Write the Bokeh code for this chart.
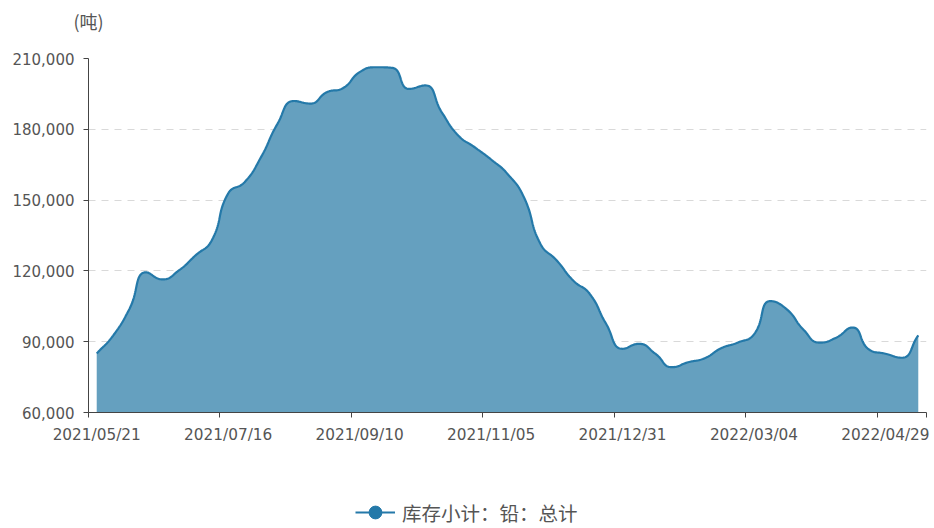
import numpy as np
from bokeh.plotting import figure
from bokeh.layouts import column
from bokeh.models import (FixedTicker, NumeralTickFormatter, Legend, LegendItem,
                          LinearAxis, Range1d, ColumnDataSource)
from bokeh.embed import file_html
from bokeh.resources import INLINE

# ---------------- data ----------------
dates = [
    "2021/05/21", "2021/05/28", "2021/06/04", "2021/06/11", "2021/06/18", "2021/06/25",
    "2021/07/02", "2021/07/09", "2021/07/16", "2021/07/23", "2021/07/30", "2021/08/06",
    "2021/08/13", "2021/08/20", "2021/08/27", "2021/09/03", "2021/09/10", "2021/09/17",
    "2021/09/24", "2021/10/01", "2021/10/08", "2021/10/15", "2021/10/22", "2021/10/29",
    "2021/11/05", "2021/11/12", "2021/11/19", "2021/11/26", "2021/12/03", "2021/12/10",
    "2021/12/17", "2021/12/24", "2021/12/31", "2022/01/07", "2022/01/14", "2022/01/21",
    "2022/01/28", "2022/02/11", "2022/02/18", "2022/02/25", "2022/03/04", "2022/03/11",
    "2022/03/18", "2022/03/25", "2022/04/01", "2022/04/08", "2022/04/15", "2022/04/22",
    "2022/04/29", "2022/05/06", "2022/05/13",
]
inventory = [
    85000, 92600, 104000, 119400, 116400, 120200, 126500, 132900, 152800, 157600,
    168200, 182300, 192000, 190900, 195700, 197500, 204200, 206300, 206000, 197100,
    198600, 187200, 177400, 172400, 167200, 161100, 151200, 131500, 124400, 115900,
    110300, 97600, 87000, 89100, 84900, 79200, 81300, 83000, 87200, 89600,
    93100, 107200, 103700, 95200, 89600, 91700, 96000, 86700, 84900, 83200,
    92700,
]
y_ticks = [60000, 90000, 120000, 150000, 180000, 210000]
label_every = 8
series_name = "库存小计：铅：总计"
unit_label = "(吨)"

# ---------------- layout ----------------
W, H = 934, 488
LH = 40
BL, BR, BT, BB = 88, 8, 58, 76
FW, FH = W - BL - BR, H - BT - BB
n = len(dates)
xs = np.arange(n, dtype=float)
ys = np.array(inventory, dtype=float)
ymin, ymax = y_ticks[0], y_ticks[-1]

# smoothing (echarts-like bezier) done in pixel space
sx = FW / n
sy = FH / (ymax - ymin)
P = np.column_stack([xs * sx, ys * sy])
smooth = 0.5
prev_cp = np.zeros_like(P)
next_cp = np.zeros_like(P)
for i in range(n):
    cur = P[i]
    prv = P[i - 1] if i > 0 else cur
    nxt = P[i + 1] if i < n - 1 else cur
    v = nxt - prv
    l0 = np.hypot(*(cur - prv))
    l1 = np.hypot(*(nxt - cur))
    if l0 + l1 == 0:
        prev_cp[i] = next_cp[i] = cur
        continue
    r = l1 / (l0 + l1)
    nc = cur + v * smooth * r
    nc = np.minimum(nc, np.maximum(nxt, cur))
    nc = np.maximum(nc, np.minimum(nxt, cur))
    vv = nc - cur
    pc = cur - vv * (l0 / l1) if l1 > 0 else cur - v * smooth * (1 - r)
    pc = np.minimum(pc, np.maximum(prv, cur))
    pc = np.maximum(pc, np.minimum(prv, cur))
    vv = cur - pc
    if l0 > 0:
        nc = cur + vv * (l1 / l0)
    prev_cp[i] = pc
    next_cp[i] = nc

cx, cy = [], []
t = np.linspace(0, 1, 24)
for i in range(n - 1):
    p0, p1, p2, p3 = P[i], next_cp[i], prev_cp[i + 1], P[i + 1]
    b = (((1 - t) ** 3)[:, None] * p0 + (3 * (1 - t) ** 2 * t)[:, None] * p1
         + (3 * (1 - t) * t ** 2)[:, None] * p2 + (t ** 3)[:, None] * p3)
    if i > 0:
        b = b[1:]
    cx.extend(b[:, 0] / sx)
    cy.extend(b[:, 1] / sy)
curve = ColumnDataSource(dict(x=cx, y=cy, base=[ymin] * len(cx)))
raw = ColumnDataSource(dict(x=xs, y=ys))

line_col = "#2479a9"
fill_col = "#65a0bf"
text_col = "#555555"
axis_col = "#444444"

p = figure(width=W, height=H, output_backend="svg", toolbar_location=None,
           x_range=(-0.5, n - 0.5), y_range=(ymin, ymax),
           min_border_left=BL, min_border_right=BR, min_border_top=BT,
           min_border_bottom=BB, background_fill_color="white",
           border_fill_color="white")
p.outline_line_color = None

p.varea(x="x", y1="base", y2="y", source=curve, fill_color=fill_col, fill_alpha=1.0)
p.line(x="x", y="y", source=curve, line_color=line_col, line_width=2.2)

# x axis
label_idx = list(range(0, n, label_every))
bounds = [i - 0.5 for i in label_idx] + [n - 0.5]
p.xaxis.ticker = FixedTicker(ticks=label_idx, minor_ticks=bounds)
p.xaxis.major_label_overrides = {i: dates[i] for i in label_idx}
p.xaxis.major_tick_line_color = None
p.xaxis.major_tick_out = 5
p.xaxis.major_tick_in = 0
p.xaxis.minor_tick_line_color = axis_col
p.xaxis.minor_tick_out = 5
p.xaxis.minor_tick_in = 0
p.xaxis.axis_line_color = axis_col
p.xaxis.major_label_text_color = text_col
p.xaxis.major_label_text_font = "DejaVu Sans"
p.xaxis.major_label_text_font_size = "15.3px"
p.xaxis.major_label_standoff = 8

# y axis
p.yaxis.ticker = FixedTicker(ticks=y_ticks)
p.yaxis.formatter = NumeralTickFormatter(format="0,0")
p.yaxis.major_tick_line_color = axis_col
p.yaxis.major_tick_out = 5
p.yaxis.major_tick_in = 0
p.yaxis.minor_tick_line_color = None
p.yaxis.axis_line_color = axis_col
p.yaxis.major_label_text_color = text_col
p.yaxis.major_label_text_font = "DejaVu Sans"
p.yaxis.major_label_text_font_size = "15px"
p.yaxis.major_label_standoff = 9

p.xgrid.grid_line_color = None
p.ygrid.grid_line_color = "#d9d9d9"
p.ygrid.grid_line_dash = "7 6"
p.ygrid.grid_line_width = 1

# unit label above the y axis, as a single tick label of an auxiliary top axis
p.extra_x_ranges = {"unit": Range1d(0, 1)}
unit_axis = LinearAxis(x_range_name="unit", ticker=FixedTicker(ticks=[0]),
                       major_label_overrides={0: unit_label},
                       axis_line_color=None, major_tick_line_color=None,
                       minor_tick_line_color=None, major_tick_out=0,
                       major_tick_in=0, major_label_standoff=25,
                       major_label_text_color=text_col,
                       major_label_text_font="Noto Sans CJK SC",
                       major_label_text_font_size="18px")
p.add_layout(unit_axis, "above")

# legend strip (its frame is aligned with the main frame by the column layout)
lf = figure(width=W, height=LH, output_backend="svg", toolbar_location=None,
            x_range=(-1.0, -0.5), y_range=(0, 1), min_border=0,
            background_fill_color="white", border_fill_color="white")
lf.outline_line_color = None
lf.axis.visible = False
lf.grid.visible = False
lg_line = lf.line(x="x", y="y", source=raw, line_color=line_col, line_width=2.2)
lg_dot = lf.scatter(x="x", y="y", source=raw, size=14, fill_color=line_col,
                    line_color=line_col)
legend = Legend(items=[LegendItem(label=series_name, renderers=[lg_line, lg_dot])],
                location=(355 - BL, 0), orientation="horizontal",
                glyph_width=40, glyph_height=32, label_standoff=7,
                padding=0, margin=0, border_line_color=None,
                background_fill_alpha=0, label_text_color=text_col,
                label_text_font="Noto Sans CJK SC", label_text_font_size="19.5px")
lf.add_layout(legend, "center")

open("out.html", "w").write(file_html(column(p, lf, spacing=0), INLINE))
